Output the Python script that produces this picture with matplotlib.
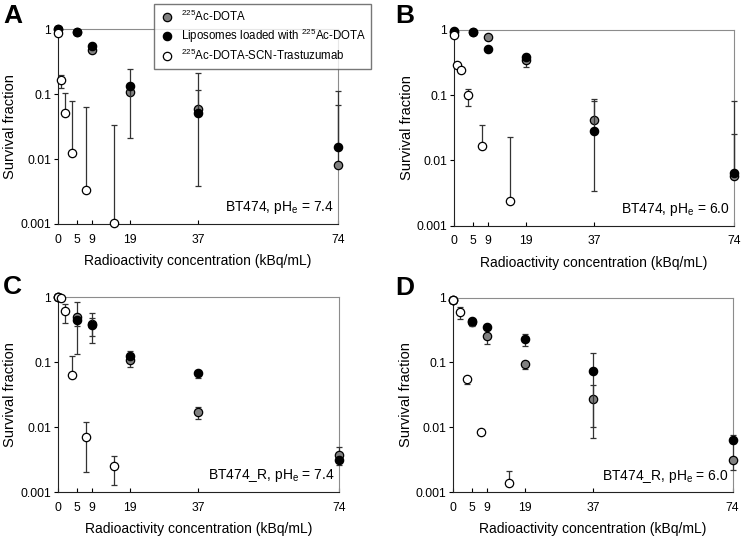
import numpy as np
import matplotlib
matplotlib.use("Agg")
from matplotlib import pyplot as plt
from matplotlib.lines import Line2D

plt.rcParams["font.family"] = ["Liberation Sans", "DejaVu Sans"]
plt.rcParams["mathtext.fontset"] = "custom"
plt.rcParams["mathtext.rm"] = "Liberation Sans"
plt.rcParams["mathtext.it"] = "Liberation Sans:italic"

# concentrations (kBq/mL)
x_main = [0, 5, 9, 19, 37, 74]
x_tras = [0, 0.925, 1.85, 3.7, 7.4, 14.8]
xticks = [0, 5, 9, 19, 37, 74]

labels = ["$^{\\mathrm{225}}$Ac-DOTA",
          "Liposomes loaded with $^{\\mathrm{225}}$Ac-DOTA",
          "$^{\\mathrm{225}}$Ac-DOTA-SCN-Trastuzumab"]
panel_names = ["A", "B", "C", "D"]
panel_notes = ["BT474, pH$_{\\mathrm{e}}$ = 7.4", "BT474, pH$_{\\mathrm{e}}$ = 6.0",
               "BT474_R, pH$_{\\mathrm{e}}$ = 7.4", "BT474_R, pH$_{\\mathrm{e}}$ = 6.0"]

# survival fractions, with lower / upper error bounds
dota_A = [1.0, 0.90, 0.48, 0.109, 0.060, 0.0081]
dota_A_lo = [1.0, 0.90, 0.48, 0.109, 0.060, 0.0081]
dota_A_hi = [1.0, 0.90, 0.48, 0.109, 0.116, 0.068]
lipo_A = [1.0, 0.90, 0.56, 0.135, 0.052, 0.0155]
lipo_A_lo = [1.0, 0.90, 0.56, 0.021, 0.0038, 0.0155]
lipo_A_hi = [1.0, 0.90, 0.56, 0.24, 0.21, 0.11]
tras_A = [0.87, 0.166, 0.052, 0.0125, 0.0033, 0.00105]
tras_A_lo = [0.87, 0.125, 0.052, 0.0125, 0.0033, 0.00105]
tras_A_hi = [0.87, 0.20, 0.105, 0.078, 0.064, 0.034]

dota_B = [0.93, 0.92, 0.77, 0.34, 0.041, 0.0057]
dota_B_lo = [0.93, 0.92, 0.77, 0.27, 0.041, 0.0057]
dota_B_hi = [0.93, 0.92, 0.77, 0.34, 0.086, 0.025]
lipo_B = [0.95, 0.92, 0.50, 0.38, 0.028, 0.0065]
lipo_B_lo = [0.95, 0.92, 0.50, 0.38, 0.0034, 0.0065]
lipo_B_hi = [0.95, 0.92, 0.50, 0.42, 0.081, 0.081]
tras_B = [0.84, 0.285, 0.24, 0.099, 0.0167, 0.0024]
tras_B_lo = [0.84, 0.285, 0.24, 0.068, 0.0167, 0.0024]
tras_B_hi = [0.84, 0.285, 0.24, 0.125, 0.035, 0.023]

dota_C = [1.0, 0.49, 0.39, 0.107, 0.0173, 0.0037]
dota_C_lo = [1.0, 0.134, 0.25, 0.085, 0.0132, 0.0037]
dota_C_hi = [1.0, 0.83, 0.57, 0.107, 0.0206, 0.005]
lipo_C = [1.0, 0.44, 0.37, 0.124, 0.069, 0.0031]
lipo_C_lo = [1.0, 0.36, 0.20, 0.124, 0.0575, 0.0026]
lipo_C_hi = [1.0, 0.50, 0.47, 0.15, 0.069, 0.0031]
tras_C = [1.0, 0.97, 0.61, 0.064, 0.0071, 0.0025]
tras_C_lo = [1.0, 0.97, 0.40, 0.064, 0.00207, 0.00128]
tras_C_hi = [1.0, 0.97, 0.79, 0.126, 0.0122, 0.0036]

dota_D = [0.92, 0.42, 0.26, 0.094, 0.0274, 0.0031]
dota_D_lo = [0.92, 0.42, 0.19, 0.08, 0.0069, 0.0022]
dota_D_hi = [0.92, 0.42, 0.26, 0.094, 0.045, 0.0057]
lipo_D = [0.93, 0.436, 0.357, 0.23, 0.074, 0.0064]
lipo_D_lo = [0.93, 0.36, 0.357, 0.18, 0.0103, 0.0064]
lipo_D_hi = [0.93, 0.436, 0.357, 0.27, 0.139, 0.0076]
tras_D = [0.93, np.nan, 0.59, 0.055, 0.0084, 0.0014]
tras_D_lo = [0.93, np.nan, 0.46, 0.046, 0.0084, 0.0014]
tras_D_hi = [0.93, np.nan, 0.72, 0.055, 0.0084, 0.0021]

panels = [
    [(dota_A, dota_A_lo, dota_A_hi), (lipo_A, lipo_A_lo, lipo_A_hi), (tras_A, tras_A_lo, tras_A_hi)],
    [(dota_B, dota_B_lo, dota_B_hi), (lipo_B, lipo_B_lo, lipo_B_hi), (tras_B, tras_B_lo, tras_B_hi)],
    [(dota_C, dota_C_lo, dota_C_hi), (lipo_C, lipo_C_lo, lipo_C_hi), (tras_C, tras_C_lo, tras_C_hi)],
    [(dota_D, dota_D_lo, dota_D_hi), (lipo_D, lipo_D_lo, lipo_D_hi), (tras_D, tras_D_lo, tras_D_hi)],
]
fills = ["#808080", "black", "white"]
xs = [x_main, x_main, x_tras]

fig = plt.figure(figsize=(7.43, 5.41), dpi=100)
positions = [(0.078, 0.586, 0.377, 0.360), (0.611, 0.583, 0.377, 0.362),
             (0.078, 0.090, 0.378, 0.361), (0.610, 0.090, 0.376, 0.360)]
letter_xy = [(0.004, 0.992), (0.532, 0.993), (0.004, 0.492), (0.532, 0.490)]

for i, pos in enumerate(positions):
    ax = fig.add_axes(pos)
    for j, (y, lo, hi) in enumerate(panels[i]):
        y = np.array(y, dtype=float)
        err = [y - np.array(lo, dtype=float), np.array(hi, dtype=float) - y]
        ax.errorbar(xs[j], y, yerr=err, fmt="o", ms=6, mfc=fills[j], mec="black",
                    mew=0.9, ecolor="#333333", elinewidth=0.9, capsize=2.5,
                    capthick=0.9, zorder=3 + j, clip_on=False)
    ax.set_yscale("log")
    ax.set_ylim(0.001, 1)
    ax.set_xlim(0, 74)
    ax.set_xticks(xticks)
    ax.set_xticklabels([str(t) for t in xticks])
    ax.set_yticks([0.001, 0.01, 0.1, 1])
    ax.set_yticklabels(["0.001", "0.01", "0.1", "1"])
    ax.minorticks_off()
    ax.tick_params(axis="x", direction="in", length=3, pad=7, labelsize=8.7)
    ax.tick_params(axis="y", direction="out", length=3, pad=2, labelsize=8.7)
    for s in ["left", "bottom"]:
        ax.spines[s].set_color("#222222")
    for s in ["top", "right"]:
        ax.spines[s].set_color("#8c8c8c")
    ax.set_xlabel("Radioactivity concentration (kBq/mL)", fontsize=10, labelpad=6)
    ax.set_ylabel("Survival fraction", fontsize=10.5, labelpad=2)
    ax.text(0.985, 0.04, panel_notes[i], transform=ax.transAxes, ha="right",
            va="bottom", fontsize=10)
    fig.text(letter_xy[i][0], letter_xy[i][1], panel_names[i],
             fontsize=19, fontweight="bold", va="top", ha="left")

handles = [Line2D([], [], ls="none", marker="o", ms=6, mfc=c, mec="black", mew=0.9)
           for c in fills]
fig.legend(handles, labels, loc="upper left", bbox_to_anchor=(0.207, 0.993),
           borderaxespad=0, fontsize=8.3, frameon=True, fancybox=False,
           edgecolor="#555555", borderpad=0.45, labelspacing=0.25,
           handletextpad=0.5, handlelength=1.4)

fig.savefig("out.png", dpi=100)
